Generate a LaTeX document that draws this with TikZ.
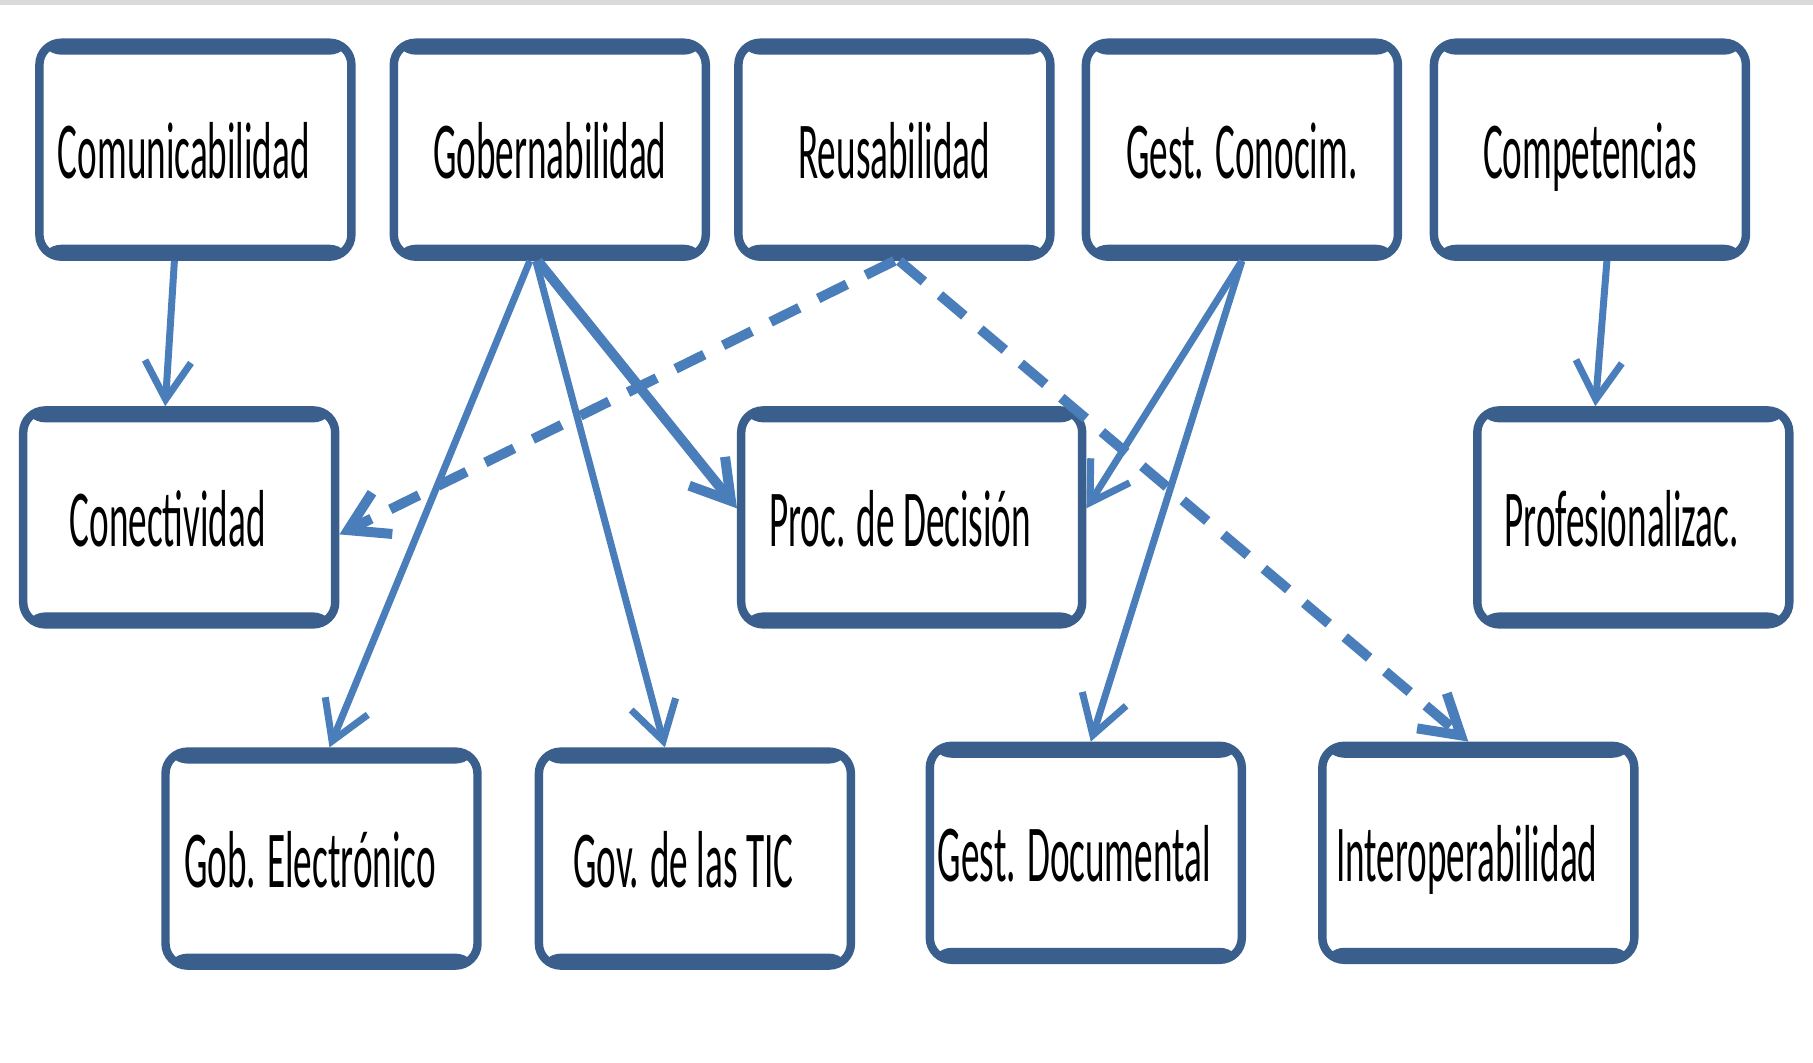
\documentclass[tikz,border=0pt]{standalone}
\usepackage{fontspec}
\setmainfont{Carlito}[FakeStretch=0.46]
\usetikzlibrary{arrows.meta}

\definecolor{bordeazul}{HTML}{3A5F8D}
\definecolor{flechaazul}{HTML}{4A7EBB}
\definecolor{lineagris}{HTML}{D9DADC}

\tikzset{
  concepto/.style={draw=bordeazul, fill=white, line width=2.4pt, rounded corners=0.22cm,
    minimum width=3.12cm, minimum height=2.14cm, inner sep=0pt,
    text height=0.58cm, text depth=0pt,
    font=\fontsize{23}{28}\selectfont,
    path picture={
      \fill[bordeazul] (path picture bounding box.north west) rectangle ([yshift=-0.12cm]path picture bounding box.north east);
      \fill[bordeazul] (path picture bounding box.south west) rectangle ([yshift=0.12cm]path picture bounding box.south east);
    }},
  % text sitting a little left of the box centre
  izq/.style={execute at begin node={\hspace*{-0.23cm}}},
  flecha/.style={draw=flechaazul, line width=0.07cm, -{Straight Barb[length=0.38cm, width=0.46cm]}},
  flechagruesa/.style={flecha, line width=0.1cm},
  flechadis/.style={flecha, line width=0.1cm, dash pattern=on 0.32cm off 0.21cm}
}

\begin{document}
\begin{tikzpicture}
    \useasboundingbox (0,0) rectangle (18.13,10.62);
    % Gray rule along the top edge
    \fill[lineagris] (0,10.57) rectangle (18.13,10.62);

    % First row of concepts
    \node[concepto, izq] (comu) at (1.954,9.123) {Comunicabilidad};
    \node[concepto] (gober) at (5.498,9.123) {Gobernabilidad};
    \node[concepto] (reusa) at (8.944,9.123) {Reusabilidad};
    \node[concepto] (gestc) at (12.419,9.123) {Gest. Conocim.};
    \node[concepto] (compe) at (15.899,9.123) {Competencias};

    % Second row
    \node[concepto, izq] (conec) at (1.792,5.446) {Conectividad};
    \node[concepto, izq, minimum width=3.41cm] (proc) at (9.117,5.446) {Proc. de Decisión};
    \node[concepto, izq] (profe) at (16.333,5.446) {Profesionalizac.};

    % Third row
    \node[concepto, izq] (gobel) at (3.215,2.034) {Gob. Electrónico};
    \node[concepto, izq] (govtic) at (6.949,2.034) {Gov. de las TIC};
    \node[concepto, izq] (gestd) at (10.858,2.092) {Gest. Documental};
    \node[concepto, izq] (inter) at (14.783,2.092) {Interoperabilidad};

    % Solid arrows
    \draw[flecha] ([xshift=-0.21cm]comu.south) -- ([xshift=-0.14cm]conec.north);
    \draw[flecha] ([xshift=-0.20cm]gober.south) -- ([xshift=0.08cm]gobel.north);
    \draw[flecha] ([xshift=-0.14cm]gober.south) -- ([xshift=-0.30cm]govtic.north);
    \draw[flechagruesa] ([xshift=-0.12cm]gober.south) -- ([yshift=0.09cm]proc.west);
    \draw[flecha] (gestc.south) -- ([yshift=0.09cm]proc.east);
    \draw[flecha] (gestc.south) -- ([xshift=0.05cm]gestd.north);
    \draw[flecha] ([xshift=0.17cm]compe.south) -- ([xshift=-0.38cm]profe.north);

    % Dashed arrows out of Reusabilidad
    \draw[flechadis] (reusa.south) -- ([yshift=-0.17cm]conec.east);
    \draw[flechadis] ([xshift=0.05cm]reusa.south) -- ([xshift=-0.10cm]inter.north);
\end{tikzpicture}
\end{document}
